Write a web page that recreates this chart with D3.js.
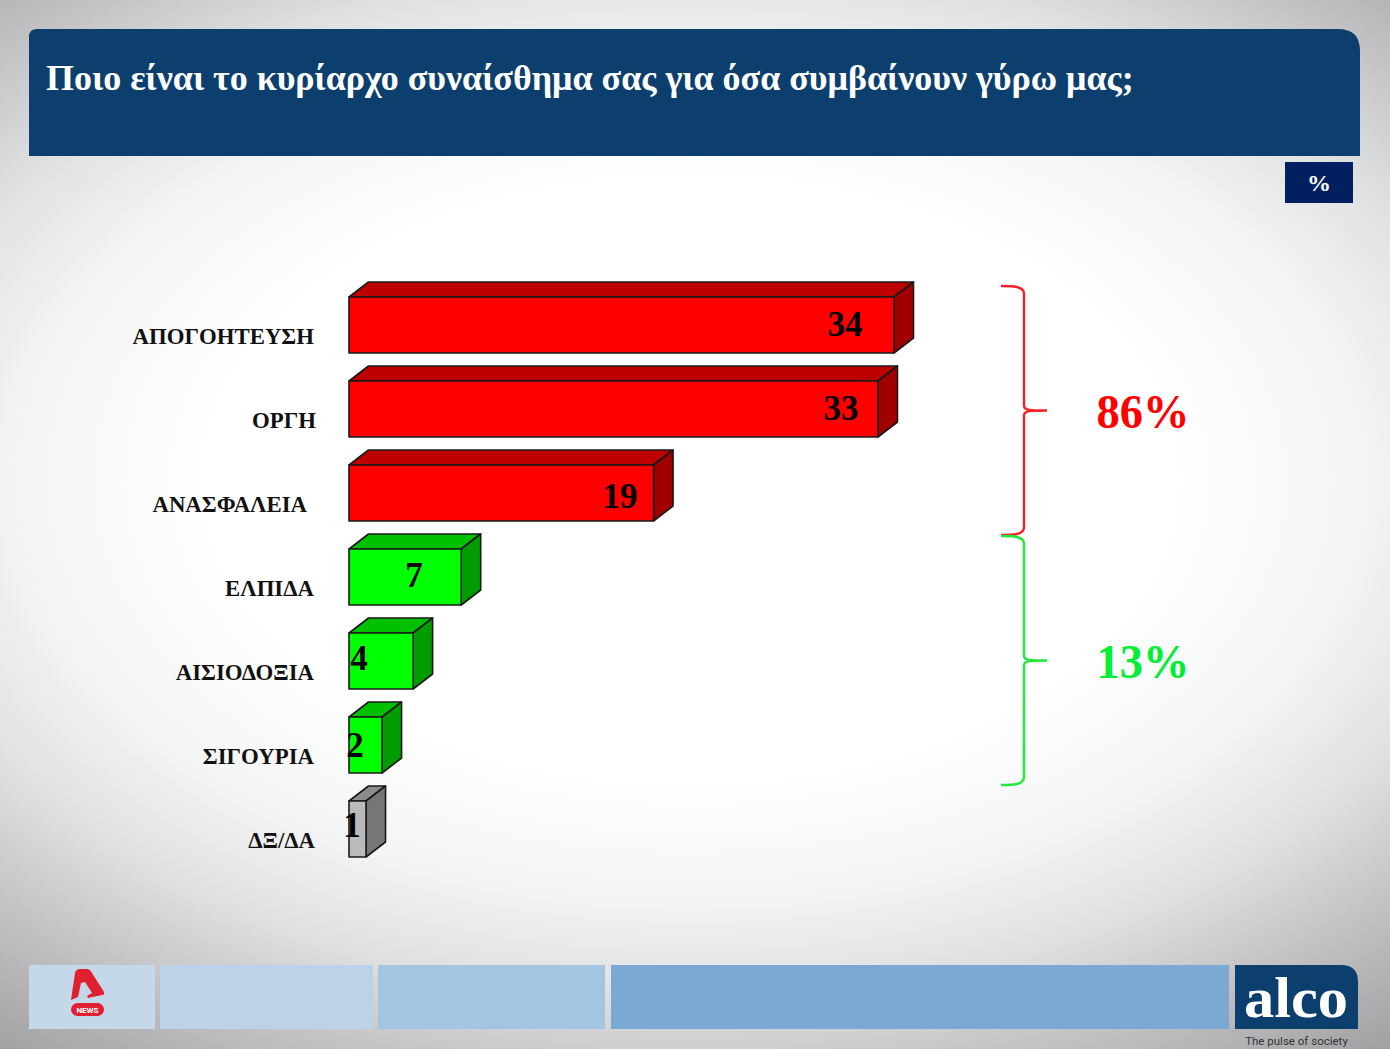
<!DOCTYPE html>
<html><head><meta charset="utf-8">
<script src="https://cdnjs.cloudflare.com/ajax/libs/d3/7.8.5/d3.min.js"></script>
<style>html,body{margin:0;padding:0;background:#fff;overflow:hidden}svg{display:block}text{font-family:"Liberation Serif",serif;font-weight:bold}</style>
</head><body><svg id="c" width="1390" height="1049"></svg>
<script>
const categories = ["ΑΠΟΓΟΗΤΕΥΣΗ","ΟΡΓΗ","ΑΝΑΣΦΑΛΕΙΑ","ΕΛΠΙΔΑ","ΑΙΣΙΟΔΟΞΙΑ","ΣΙΓΟΥΡΙΑ","ΔΞ/ΔΑ"];
const values = [34,33,19,7,4,2,1];
const groups = ["neg","neg","neg","pos","pos","pos","dk"];
const title = "Ποιο είναι το κυρίαρχο συναίσθημα σας για όσα συμβαίνουν γύρω μας;";
const summaryLabels = ["86%","13%"];
const summaryColors = ["#ff0000","#00ee33"];

// styling only
const palette = {neg:["#ff0000","#bd0000","#a00000"],pos:["#00ff00","#00c000","#009c00"],dk:["#bababa","#8c8c8c","#767676"]};
const labelNudge = [0,2,-7,0,0,0,1];
const valueCx = [496,492,271,65,10,6,3];
const valueDy = [11,11,15,10,9,12,8];
const footer = [[29,155,"#c4d8ea"],[160,373,"#bcd2e8"],[378,605,"#a2c5e2"],[611,1229,"#7aa9d3"]];

const svg = d3.select("#c");
const defs = svg.append("defs");
const g = defs.append("radialGradient").attr("id","bg").attr("gradientUnits","userSpaceOnUse")
  .attr("cx",0).attr("cy",0).attr("r",1).attr("gradientTransform","translate(690 480) scale(1152 720)");
[[0,"#fff"],[.417,"#fff"],[.583,"#f3f4f4"],[.708,"#e0e1e2"],[.833,"#c4c4c6"],[1,"#a0a0a3"]].forEach(s=>g.append("stop").attr("offset",s[0]).attr("stop-color",s[1]));
svg.append("rect").attr("width",1390).attr("height",1049).attr("fill","url(#bg)");

// header
svg.append("path").attr("fill","#0c3f6e").attr("d","M29 156V37Q29 29 37 29H1338Q1360 29 1360 51V156Z");
svg.append("text").attr("x",46).attr("y",90).attr("fill","#fff").attr("font-size",36).text(title);
svg.append("rect").attr("x",1285).attr("y",162).attr("width",68).attr("height",41).attr("fill","#021f60");
svg.append("text").attr("x",1319).attr("y",191).attr("text-anchor","middle").attr("fill","#fff").attr("font-size",24).text("%");

// scales
const x = d3.scaleLinear().domain([0,34]).range([349,894]);
const y = d3.scaleBand().domain(categories).range([283,871]).paddingInner(1/3).paddingOuter(1/6);
const dx = 19.5, dy = 15;
const xEnd = v => x(v) + (v <= 2 ? 1 : 0);

const bars = svg.append("g").selectAll("g").data(categories.map((c,i)=>({c,v:values[i],k:groups[i],i}))).join("g");
const stroke = {stroke:"#1a1a1a","stroke-width":1.6,"stroke-linejoin":"round"};
function st(s){Object.entries(stroke).forEach(([k,v])=>s.attr(k,v));return s;}
st(bars.append("path")).attr("fill",d=>palette[d.k][1]).attr("d",d=>{
  const x0=x(0),x1=xEnd(d.v),t=y(d.c);
  return `M${x0} ${t}L${x0+dx} ${t-dy}H${x1+dx}L${x1} ${t}Z`;});
st(bars.append("path")).attr("fill",d=>palette[d.k][2]).attr("d",d=>{
  const x1=xEnd(d.v),t=y(d.c),b=t+y.bandwidth();
  return `M${x1} ${t}L${x1+dx} ${t-dy}V${b-dy}L${x1} ${b}Z`;});
st(bars.append("rect")).attr("fill",d=>palette[d.k][0]).attr("x",x(0)).attr("y",d=>y(d.c))
  .attr("width",d=>xEnd(d.v)-x(0)).attr("height",y.bandwidth());
bars.append("text").attr("x",d=>x(0)+valueCx[d.i]).attr("y",d=>y(d.c)+y.bandwidth()/2+valueDy[d.i])
  .attr("text-anchor","middle").attr("font-size",35).attr("fill","#000").text(d=>d.v);

// category axis
const ax = svg.append("g").attr("transform","translate(314,12)").call(d3.axisLeft(y).tickSize(0).tickPadding(0));
ax.select(".domain").remove();
ax.selectAll("text").attr("font-size",22.8).attr("fill","#111")
  .style("font-family",'"Liberation Serif",serif').style("font-weight","bold")
  .attr("dx",(d,i)=>labelNudge[i]);

// braces
function brace(t,b){
  const l=1001,m=1024,e=1047,c=(t+b)/2;
  return `M${l} ${t}C${l+12} ${t} ${m} ${t} ${m} ${t+8}V${c-5}C${m} ${c} ${m+6} ${c} ${e} ${c}C${m+6} ${c} ${m} ${c} ${m} ${c+5}V${b-8}C${m} ${b} ${l+12} ${b} ${l} ${b}`;
}
[[286,535],[536,785]].forEach((r,i)=>{
  svg.append("path").attr("d",brace(r[0],r[1])).attr("fill","none").attr("stroke",i?"#22e83c":"#f5202a").attr("stroke-width",2.4);
  svg.append("text").attr("x",1143).attr("y",(r[0]+r[1])/2+17).attr("text-anchor","middle")
    .attr("font-size",48).attr("fill",summaryColors[i]).attr("textLength",93).attr("lengthAdjust","spacingAndGlyphs").text(summaryLabels[i]);
});

// footer
svg.append("g").selectAll("rect").data(footer).join("rect").attr("x",d=>d[0]).attr("y",965)
  .attr("width",d=>d[1]-d[0]).attr("height",64).attr("fill",d=>d[2]);
svg.append("path").attr("fill","#0c3f6e").attr("d","M1235 965H1341Q1358 965 1358 982V1029H1235Z");
svg.append("text").attr("x",1296).attr("y",1017).attr("text-anchor","middle").attr("fill","#fff").attr("font-size",58)
  .attr("textLength",104).attr("lengthAdjust","spacingAndGlyphs").text("alco");
svg.append("text").attr("x",1296.5).attr("y",1045).attr("text-anchor","middle").attr("fill","#333")
  .style("font-family","Roboto,sans-serif").style("font-weight","normal").attr("font-size",11.5).text("The pulse of society");
// channel logo
svg.append("path").attr("fill","#e01f30")
  .attr("d","M71 1000L75 973Q76 969 80 969L87 969Q90 969 92 973L104 992Q105 995 102 995L88 998L87 996L92 993L85 982L81 983L78 997Z");
svg.append("rect").attr("x",71).attr("y",1003).attr("width",33).attr("height",13).attr("rx",6.5).attr("fill","#e01f30");
svg.append("text").attr("x",87.5).attr("y",1012.5).attr("text-anchor","middle").attr("fill","#fff")
  .style("font-family","Roboto,sans-serif").attr("font-size",8).text("NEWS");
</script></body></html>
